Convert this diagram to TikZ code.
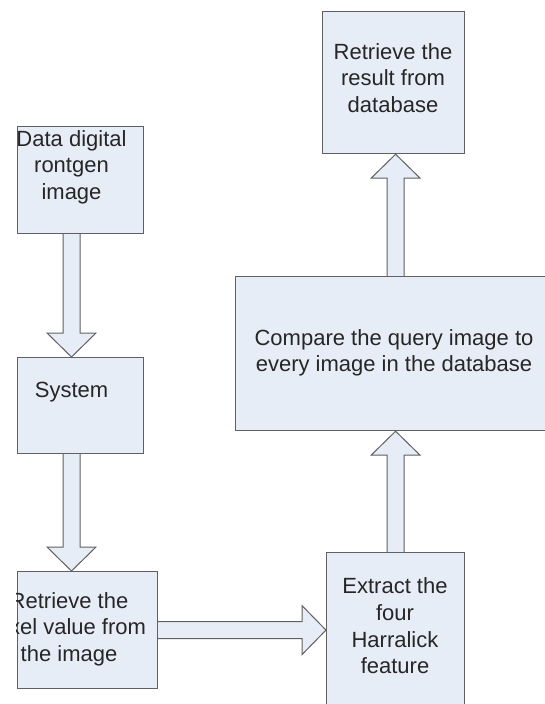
\documentclass[tikz,border=0pt]{standalone}
\usepackage{fontspec}
\setmainfont{Liberation Sans}
\usetikzlibrary{calc,backgrounds}

\definecolor{boxfill}{RGB}{231,237,247}
\definecolor{boxline}{RGB}{96,96,96}
\definecolor{boxtext}{RGB}{38,38,38}

\tikzset{
  stage/.style={draw=boxline, fill=boxfill, line width=1.2pt,
    inner sep=0pt, anchor=north west},
  caption/.style={text=boxtext, align=center, inner sep=0pt,
    font=\fontsize{22}{26.6}\selectfont},
  fatarrow/.style={draw=boxline, fill=boxfill, line width=1pt}
}

% hollow block arrow from #1 to #2
\newcommand{\shaftw}{8.5pt}
\newcommand{\headw}{24.5pt}
\newcommand{\headlen}{24pt}
\newcommand{\bigarrow}[2]{%
  \coordinate (ah) at ($(#2)!\headlen!(#1)$);
  \draw[fatarrow] ($(#1)!\shaftw!90:(#2)$) -- ($(ah)!\shaftw!90:(#2)$)
    -- ($(ah)!\headw!90:(#2)$) -- (#2) -- ($(ah)!\headw!-90:(#2)$)
    -- ($(ah)!\shaftw!-90:(#2)$) -- ($(#1)!\shaftw!-90:(#2)$);
}

\begin{document}
\begin{tikzpicture}[x=1pt, y=-1pt]
  \useasboundingbox (0,0) rectangle (545,704);
  \clip (16.2,0) rectangle (545,704);

  % left column
  \node[stage, minimum width=126pt, minimum height=107pt] (data) at (17,126) {};
  \node[caption] (data-t) at (71.5,167) {Data digital\\rontgen\\image};
  \node[stage, minimum width=126pt, minimum height=96pt] (sys) at (17,357) {};
  \node[caption] (sys-t) at (71.5,392) {System};
  \node[stage, minimum width=140pt, minimum height=117pt] (pix) at (17,571) {};
  \node[caption] (pix-t) at (69,629) {Retrieve the\\pixel value from\\the image};

  % right column
  \node[stage, minimum width=138pt, minimum height=156pt] (ext) at (326,552) {};
  \node[caption] (ext-t) at (395,626) {Extract the\\four\\Harralick\\feature};
  \node[stage, minimum width=318pt, minimum height=154pt] (cmp) at (235,276) {};
  \node[caption] (cmp-t) at (394,353) {Compare the query image to\\every image in the database};
  \node[stage, minimum width=142pt, minimum height=142pt] (res) at (322,11) {};
  \node[caption] (res-t) at (393,78) {Retrieve the\\result from\\database};

  \begin{pgfonlayer}{background}
    \bigarrow{data-t |- data.south}{data-t |- sys.north}
    \bigarrow{sys-t |- sys.south}{sys-t |- pix.north}
    \bigarrow{pix.east}{pix.east -| ext.west}
    \bigarrow{ext.north}{ext.north |- cmp.south}
    \bigarrow{cmp.north -| ext.north}{res.south -| ext.north}
  \end{pgfonlayer}
\end{tikzpicture}
\end{document}
